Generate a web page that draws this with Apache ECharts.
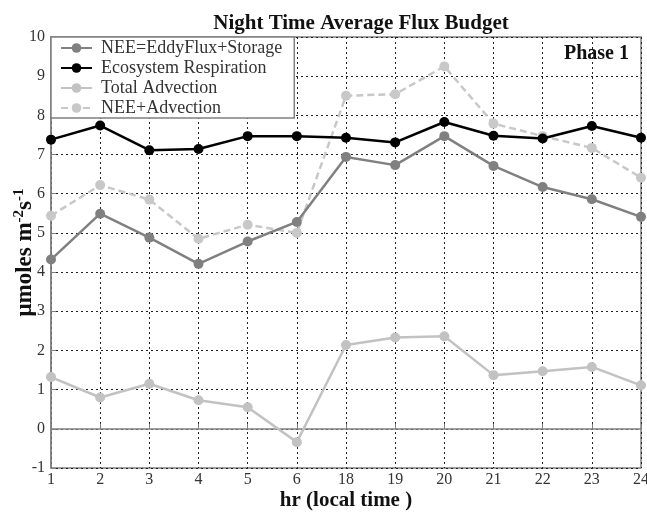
<!DOCTYPE html>
<html>
<head>
<meta charset="utf-8">
<script src="https://cdn.jsdelivr.net/npm/echarts@6/dist/echarts.min.js"></script>
<style>
  html, body { margin: 0; padding: 0; background: #fff; }
  #chart { width: 647px; height: 515px; }
</style>
</head>
<body>
<div id="chart"></div>
<script>
// hours of the night (x categories)
var hours = ['1', '2', '3', '4', '5', '6', '18', '19', '20', '21', '22', '23', '24'];
// series values, umoles m-2 s-1
var nee = [4.32, 5.49, 4.88, 4.21, 4.78, 5.28, 6.94, 6.73, 7.47, 6.71, 6.17, 5.86, 5.41];
var ecoResp = [7.38, 7.74, 7.11, 7.14, 7.47, 7.47, 7.43, 7.31, 7.83, 7.48, 7.41, 7.73, 7.43];
var totalAdv = [1.32, 0.80, 1.15, 0.73, 0.55, -0.34, 2.14, 2.33, 2.36, 1.37, 1.47, 1.58, 1.11];
var neeAdv = [5.44, 6.22, 5.85, 4.85, 5.21, 5.00, 8.50, 8.54, 9.25, 7.79, 7.47, 7.17, 6.41];

var serif = '"Liberation Serif", "DejaVu Serif", serif';
var myChart = echarts.init(document.getElementById('chart'));

function lineSeries(name, data, color, dashed, z) {
    return {
        name: name,
        type: 'line',
        data: data,
        z: z,
        symbol: 'circle',
        symbolSize: 10,
        itemStyle: { color: color },
        lineStyle: { color: color, width: 2.5, type: dashed ? [7, 4] : 'solid' },
        emphasis: { disabled: true },
        animation: false
    };
}

var option = {
    backgroundColor: '#fff',
    title: {
        text: 'Night Time Average Flux Budget',
        left: 356,
        textAlign: 'center',
        top: 8,
        textStyle: { fontFamily: serif, fontSize: 21, fontWeight: 'bold', color: '#111' }
    },
    legend: {
        orient: 'vertical',
        left: 51,
        top: 37,
        padding: [1, 12, 0, 9],
        itemWidth: 31,
        itemHeight: 12,
        itemGap: 0,
        backgroundColor: '#fff',
        borderColor: '#808080',
        borderWidth: 1.5,
        borderRadius: 0,
        textStyle: { fontFamily: serif, fontSize: 18, color: '#333', lineHeight: 20, padding: [0, 0, 0, 4] },
        data: ['NEE=EddyFlux+Storage', 'Ecosystem Respiration', 'Total Advection', 'NEE+Advection']
    },
    graphic: [{
        type: 'text',
        right: 18,
        top: 44,
        style: { text: 'Phase 1', fontFamily: serif, fontSize: 20, fontWeight: 'bold', fill: '#111' }
    }],
    grid: {
        left: 51, right: 6, top: 37, bottom: 47,
        outerBoundsMode: 'none',
        show: true,
        borderColor: '#808080',
        borderWidth: 1.5
    },
    xAxis: {
        type: 'category',
        data: hours,
        boundaryGap: false,
        name: 'hr (local time )',
        nameLocation: 'middle',
        nameGap: 22,
        nameMoveOverlap: false,
        nameTextStyle: { fontFamily: serif, fontSize: 21, fontWeight: 'bold', color: '#111' },
        axisLine: { lineStyle: { color: '#808080', width: 1.5 } },
        axisTick: { inside: true, length: 5, alignWithLabel: true, lineStyle: { color: '#808080' } },
        axisLabel: { fontFamily: serif, fontSize: 16, color: '#333', margin: 4 },
        splitLine: { show: true, lineStyle: { color: '#222', width: 1, type: [2, 3] } }
    },
    yAxis: {
        type: 'value',
        min: -1,
        max: 10,
        interval: 1,
        name: '{b|\u03bcmoles m}{s|-2}{b|s}{s|-1}',
        nameLocation: 'middle',
        nameRotate: 90,
        nameGap: 13,
        nameMoveOverlap: false,
        nameTextStyle: {
            rich: {
                b: { fontFamily: serif, fontSize: 23, fontWeight: 'bold', color: '#111' },
                s: { fontFamily: serif, fontSize: 15, fontWeight: 'bold', color: '#111', padding: [0, 0, 11, 0] }
            }
        },
        axisLine: { show: true, lineStyle: { color: '#808080', width: 1.5 } },
        axisTick: { show: true, inside: true, length: 5, lineStyle: { color: '#808080' } },
        axisLabel: { fontFamily: serif, fontSize: 16, color: '#333', margin: 6 },
        splitLine: { show: true, lineStyle: { color: '#222', width: 1, type: [2, 3] } }
    },
    series: [
        lineSeries('NEE=EddyFlux+Storage', nee, '#808080', false, 3),
        lineSeries('Ecosystem Respiration', ecoResp, '#000000', false, 4),
        lineSeries('Total Advection', totalAdv, '#c2c2c2', false, 2),
        lineSeries('NEE+Advection', neeAdv, '#c8c8c8', true, 2)
    ]
};

myChart.setOption(option);
</script>
</body>
</html>
